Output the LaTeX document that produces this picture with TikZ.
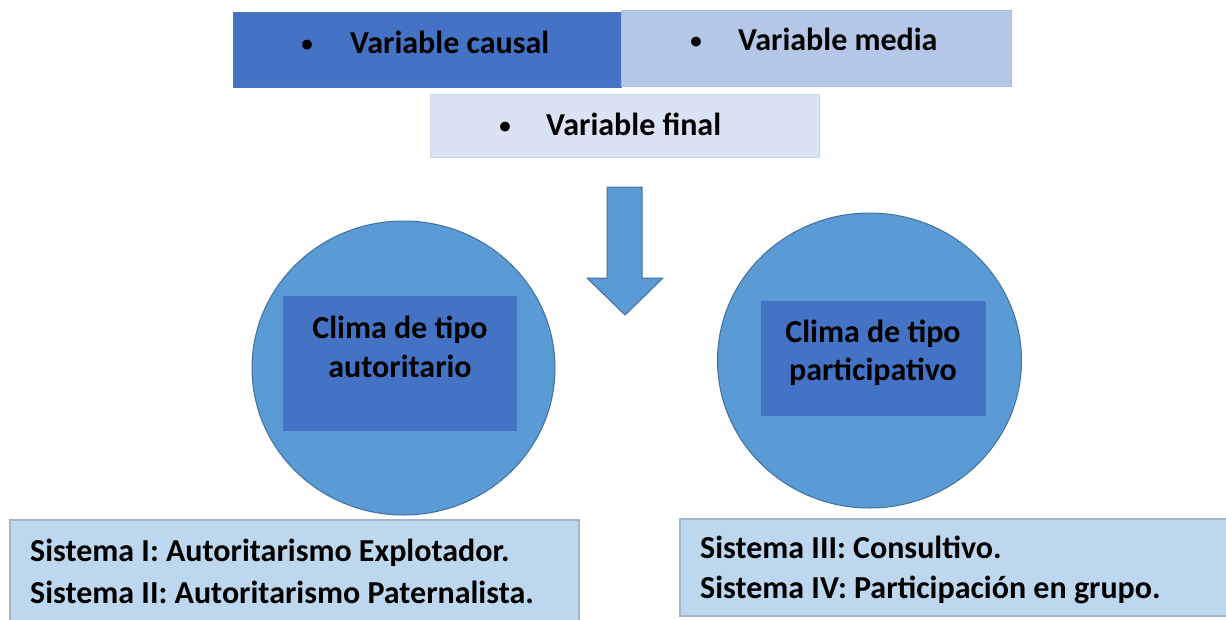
\documentclass[tikz,border=0pt]{standalone}
\usepackage{fontspec}
\setmainfont{Carlito}
\usetikzlibrary{shapes.geometric}
\definecolor{cdark}{HTML}{4472C4}
\definecolor{cmed}{HTML}{B4C7E7}
\definecolor{clight}{HTML}{DAE3F3}
\definecolor{cblue}{HTML}{5B9BD5}
\definecolor{cedge}{HTML}{41719C}
\definecolor{cbox}{HTML}{BDD7EE}
\definecolor{cboxedge}{HTML}{A5B5C8}
\tikzset{
  x=1pt, y=-1pt,
  txt/.style={font=\bfseries\fontsize{32}{38}\selectfont, text=black, inner sep=0pt},
  bul/.style={font=\bfseries\fontsize{23}{28}\selectfont, text=black, inner sep=0pt, anchor=base},
  topbox/.style={draw=#1!85!gray, line width=1pt, fill=#1},
  circ/.style={ellipse, draw=cedge, line width=1pt, fill=cblue, inner sep=0pt},
  inner/.style={fill=cdark, draw=none},
  sysbox/.style={draw=cboxedge, line width=1.2pt, fill=cbox},
}
\begin{document}
\begin{tikzpicture}
\useasboundingbox (0,0) rectangle (1226,619);
% top boxes
\path[topbox=cdark] (233,12) rectangle (621,87);
\path[topbox=cmed] (621,10) rectangle (1011,86);
\path[topbox=clight] (430,94) rectangle (819,157);
\node[bul] (b1) at (307,51) {•};
\node[txt, anchor=base west] (t1) at (350,53) {Variable causal};
\node[bul] (b2) at (696,48) {•};
\node[txt, anchor=base west] (t2) at (738,50) {Variable media};
\node[bul] (b3) at (505,133) {•};
\node[txt, anchor=base west] (t3) at (546,135) {Variable final};
% arrow
\draw[fill=cblue, draw=cedge, line width=1pt, line join=miter]
  (607,187) -- (642,187) -- (642,278) -- (663,278) -- (625,315) -- (587,278) -- (607,278) -- cycle;
% circles
\node[circ, minimum width=303, minimum height=294] (c1) at (403.5,368) {};
\node[circ, minimum width=304, minimum height=295] (c2) at (869.5,360.5) {};
\path[inner] (283,296) rectangle (517,431);
\path[inner] (761,301) rectangle (986,416);
\node[txt, anchor=base] (l1a) at (400,338) {Clima de tipo};
\node[txt, anchor=base] (l1b) at (400,377) {autoritario};
\node[txt, anchor=base] (l2a) at (873,342) {Clima de tipo};
\node[txt, anchor=base] (l2b) at (873,380) {participativo};
% bottom boxes
\path[sysbox] (10,520) rectangle (579,625);
\path[sysbox] (680,519) rectangle (1232,616);
\node[txt, anchor=base west] (s1) at (30,561) {Sistema I: Autoritarismo Explotador.};
\node[txt, anchor=base west] (s2) at (30,603) {Sistema II: Autoritarismo Paternalista.};
\node[txt, anchor=base west] (s3) at (700,558) {Sistema III: Consultivo.};
\node[txt, anchor=base west] (s4) at (700,598) {Sistema IV: Participación en grupo.};
\end{tikzpicture}
\end{document}
